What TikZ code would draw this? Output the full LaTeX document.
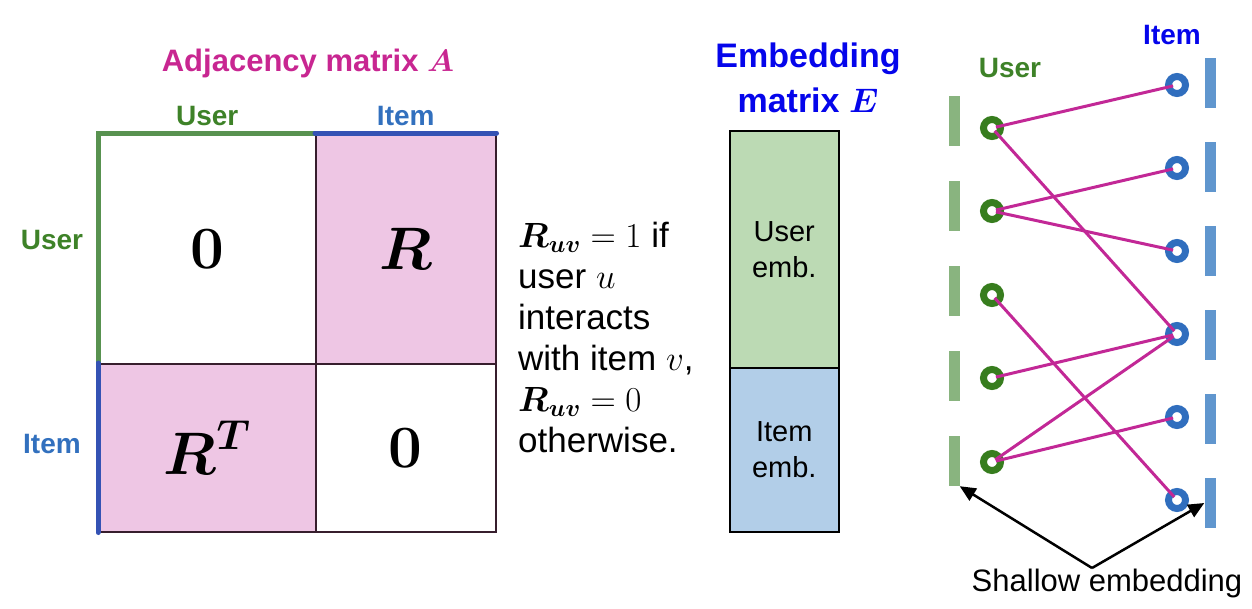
\RequirePackage{fix-cm}
\documentclass[tikz,border=0pt]{standalone}
\usepackage{amsmath}
\usepackage[no-math]{fontspec}
\setmainfont{Liberation Sans}
\usetikzlibrary{positioning,arrows.meta}
\definecolor{AdjMagenta}{RGB}{200,38,145}
\definecolor{EdgeMagenta}{RGB}{194,40,150}
\definecolor{CellPink}{RGB}{238,198,228}
\definecolor{CellEdge}{RGB}{55,30,45}
\definecolor{UserGreen}{RGB}{62,130,40}
\definecolor{UserLine}{RGB}{88,146,80}
\definecolor{ItemBlue}{RGB}{50,112,190}
\definecolor{ItemLine}{RGB}{52,82,180}
\definecolor{EmbBlue}{RGB}{5,5,235}
\definecolor{UserFill}{RGB}{188,218,180}
\definecolor{ItemFill}{RGB}{178,206,232}
\definecolor{GreenBar}{RGB}{137,180,127}
\definecolor{BlueBar}{RGB}{96,150,206}
\definecolor{UserRing}{RGB}{55,125,30}
\definecolor{ItemRing}{RGB}{48,110,190}
\tikzset{
  cell/.style={draw=CellEdge,line width=1.5pt,anchor=north west,inner sep=0pt,
    font=\fontsize{60}{60}\selectfont},
  sidelabel/.style={font=\fontsize{28}{30}\selectfont\bfseries},
  userline/.style={draw=UserLine,line width=5pt,line cap=round},
  itemline/.style={draw=ItemLine,line width=5pt,line cap=round},
  embbox/.style={draw=black,line width=1.5pt,anchor=north west,inner sep=0pt,
    minimum width=109pt,align=center,font=\fontsize{29}{36}\selectfont},
  usernode/.style={circle,draw=UserRing,line width=7pt,minimum size=17pt,inner sep=0pt},
  itemnode/.style={circle,draw=ItemRing,line width=7pt,minimum size=17pt,inner sep=0pt},
  ubar/.style={fill=GreenBar,minimum width=11pt,minimum height=50pt,inner sep=0pt},
  ibar/.style={fill=BlueBar,minimum width=11pt,minimum height=50pt,inner sep=0pt},
  link/.style={draw=EdgeMagenta,line width=3pt,shorten <=4pt,shorten >=4pt},
  pointer/.style={-{Triangle[length=16pt,width=14pt]},line width=2.5pt,draw=black}
}
\begin{document}
\begin{tikzpicture}[x=1pt,y=-1pt]
  \useasboundingbox (0,0) rectangle (1252,608);
  % adjacency matrix
  \node[font=\fontsize{31}{34}\selectfont\bfseries,text=AdjMagenta] (adjtitle) at (308,63) {Adjacency matrix $\boldsymbol{A}$};
  \node[cell,minimum width=217pt,minimum height=230pt] (c00) at (98,133) {$\mathbf{0}$};
  \node[cell,fill=CellPink,minimum width=180pt,minimum height=230pt] (c01) at (315,133) {$\boldsymbol{R}$};
  \node[cell,fill=CellPink,minimum width=217pt,minimum height=168pt] (c10) at (98,363) {$\boldsymbol{R}^{\boldsymbol{T}}$};
  \node[cell,minimum width=180pt,minimum height=168pt] (c11) at (315,363) {$\mathbf{0}$};
  \draw[userline] (c00.north east) -- (c00.north west) -- (c00.south west);
  \draw[itemline] (c01.north west) -- (c01.north east);
  \draw[itemline] (c10.north west) -- (c10.south west);
  \node[sidelabel,text=UserGreen,above=4pt of c00.north] (topuser) {User};
  \node[sidelabel,text=ItemBlue,above=4pt of c01.north] (topitem) {Item};
  \node[sidelabel,text=UserGreen] (leftuser) at (52,240) {User};
  \node[sidelabel,text=ItemBlue] (leftitem) at (52,444) {Item};
  % explanation
  \node[anchor=north west,align=left,inner sep=0pt,font=\fontsize{35}{41}\selectfont] (note) at (518,222)
    {$\boldsymbol{R}_{\boldsymbol{uv}}=1$ if\\user $u$\\interacts\\with item $v$,\\$\boldsymbol{R}_{\boldsymbol{uv}}=0$\\otherwise.};
  % embedding matrix
  \node[align=center,font=\fontsize{34}{45}\selectfont\bfseries,text=EmbBlue] (embtitle) at (808,78) {Embedding\\matrix $\boldsymbol{E}$};
  \node[embbox,fill=UserFill,minimum height=237pt] (uemb) at (729,130) {User\\emb.};
  \node[embbox,fill=ItemFill,minimum height=164pt] (iemb) at (729,367) {Item\\emb.};
  % shallow embedding graph
  \node[sidelabel,text=UserGreen] (grpuser) at (1010,68) {User};
  \node[sidelabel,text=EmbBlue] (grpitem) at (1172,35) {Item};
  \node[ubar] (gb1) at (954,121) {};
  \node[ubar] (gb2) at (954,206) {};
  \node[ubar] (gb3) at (954,291) {};
  \node[ubar] (gb4) at (954,376) {};
  \node[ubar] (gb5) at (954,461) {};
  \node[ibar] (bb1) at (1210,83) {};
  \node[ibar] (bb2) at (1210,167) {};
  \node[ibar] (bb3) at (1210,251) {};
  \node[ibar] (bb4) at (1210,335) {};
  \node[ibar] (bb5) at (1210,419) {};
  \node[ibar] (bb6) at (1210,503) {};
  \node[usernode] (u1) at (992,128) {};
  \node[usernode] (u2) at (992,211) {};
  \node[usernode] (u3) at (992,295) {};
  \node[usernode] (u4) at (992,378) {};
  \node[usernode] (u5) at (992,462) {};
  \node[itemnode] (i1) at (1177,85) {};
  \node[itemnode] (i2) at (1177,168) {};
  \node[itemnode] (i3) at (1177,251) {};
  \node[itemnode] (i4) at (1177,334) {};
  \node[itemnode] (i5) at (1177,417) {};
  \node[itemnode] (i6) at (1177,500) {};
  \draw[link] (u1.center) -- (i1.center);
  \draw[link] (u1.center) -- (i4.center);
  \draw[link] (u2.center) -- (i2.center);
  \draw[link] (u2.center) -- (i3.center);
  \draw[link] (u3.center) -- (i6.center);
  \draw[link] (u4.center) -- (i4.center);
  \draw[link] (u5.center) -- (i4.center);
  \draw[link] (u5.center) -- (i5.center);
  \node[font=\fontsize{31}{33}\selectfont] (shallow) at (1107,583) {Shallow embedding};
  \coordinate (apex) at (1092,568);
  \draw[pointer] (apex) -- (gb5.south east);
  \draw[pointer] (apex) -- (bb6.west);
\end{tikzpicture}
\end{document}
